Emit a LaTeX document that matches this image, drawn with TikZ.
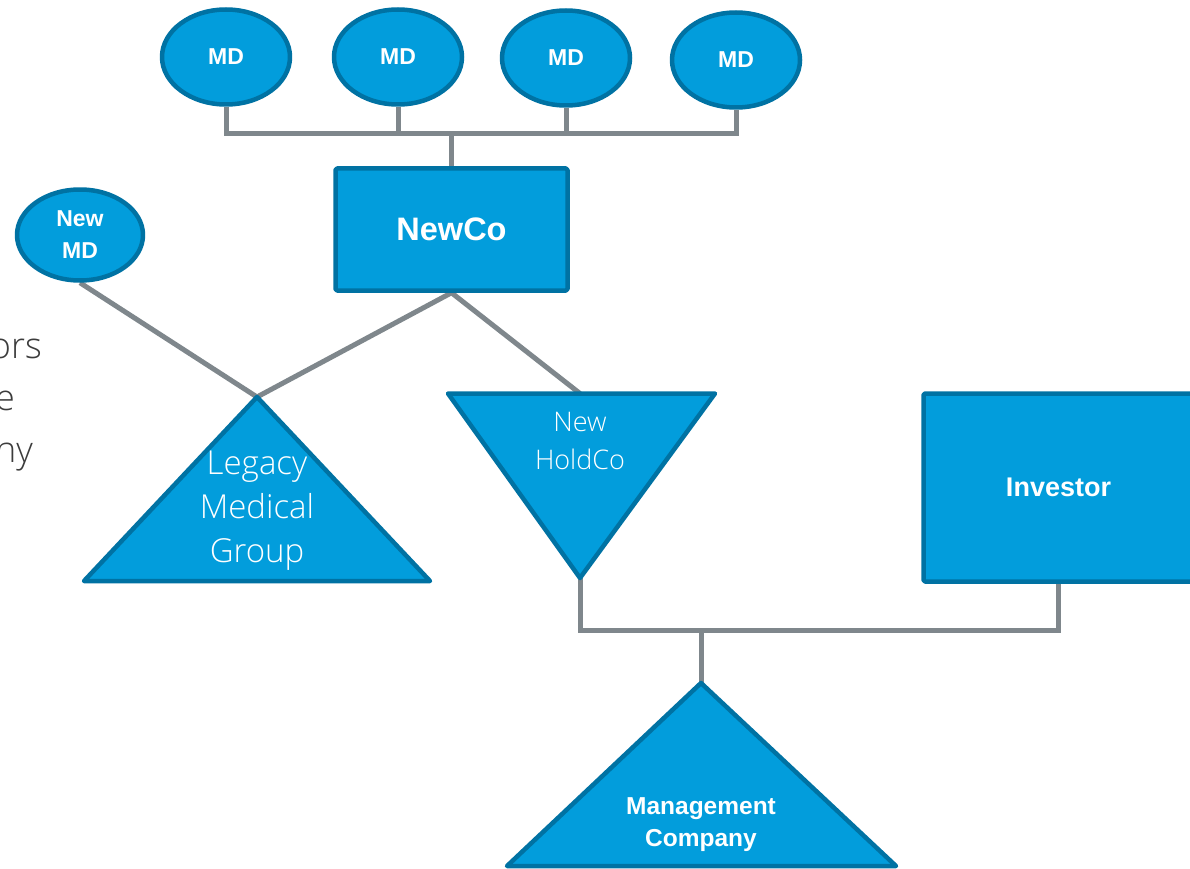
\documentclass[tikz,border=0pt]{standalone}
\usepackage{fontspec}
\setmainfont{Liberation Sans}
\newfontfamily\lightfont{Open Sans Light}
\usetikzlibrary{shapes.geometric}
\pgfdeclarelayer{links}
\pgfsetlayers{links,main}
\definecolor{boxfill}{RGB}{2,157,220}
\definecolor{boxline}{RGB}{0,114,163}
\definecolor{linkgray}{RGB}{127,135,140}
\definecolor{sidegray}{RGB}{60,60,60}
\tikzset{
  conn/.style={draw=linkgray, line width=5pt},
  shapebox/.style={draw=boxline, fill=boxfill, line width=4.5pt, line join=round},
  mdnode/.style={shapebox, ellipse, minimum width=128pt, minimum height=95pt, inner sep=0pt,
    text=white, font=\bfseries\fontsize{23}{32}\selectfont, align=center},
  rectnode/.style={shapebox, rectangle, rounded corners=1.5pt, inner sep=0pt, text=white},
  boldlabel/.style={text=white, align=center, inner sep=0pt},
  lightlabel/.style={text=white, align=center, inner sep=0pt},
  sidetext/.style={text=sidegray, inner sep=0pt, font=\lightfont\fontsize{36}{40}\selectfont}
}
\begin{document}
\begin{tikzpicture}[x=1pt, y=-1pt]
\useasboundingbox (0,0) rectangle (1190,869);
\clip (0,0) rectangle (1190,869);

% key points of the triangles and the two horizontal buses
\coordinate (legApex) at (257,397);
\coordinate (legL) at (84,581);
\coordinate (legR) at (430,581);
\coordinate (hcL) at (448,393.5);
\coordinate (hcR) at (715,393.5);
\coordinate (hcApex) at (580,578);
\coordinate (hcTop) at (580,393.5);
\coordinate (mgApex) at (701,683);
\coordinate (mgL) at (507,866);
\coordinate (mgR) at (896,866);
\coordinate (topBus) at (0,134);
\coordinate (lowBus) at (0,630);

% ovals and boxes
\node[mdnode] (md1) at (226,57) {MD};
\node[mdnode] (md2) at (398,57) {MD};
\node[mdnode] (md3) at (566,58) {MD};
\node[mdnode] (md4) at (736,60) {MD};
\node[mdnode, minimum width=126pt, minimum height=91pt] (newmd) at (80,235) {New\\MD};
\node[rectnode, minimum width=232pt, minimum height=122pt,
      font=\bfseries\fontsize{32.5}{36}\selectfont] (newco) at (451.5,229.5) {NewCo};
\node[rectnode, minimum width=270pt, minimum height=188pt,
      font=\bfseries\fontsize{27}{32}\selectfont] (investor) at (1058.5,487.5) {Investor};

% triangles
\path[shapebox] (legApex) -- (legR) -- (legL) -- cycle;
\path[shapebox] (hcL) -- (hcR) -- (hcApex) -- cycle;
\path[shapebox] (mgApex) -- (mgR) -- (mgL) -- cycle;

% connectors, on the layer below the shapes
\begin{pgfonlayer}{links}
\draw[conn] (md1.south) -- (md1.south |- topBus) -- (md4.south |- topBus) -- (md4.south);
\draw[conn] (md2.south) -- (md2.south |- topBus);
\draw[conn] (md3.south) -- (md3.south |- topBus);
\draw[conn] (newco.north) -- (newco.north |- topBus);
\draw[conn] (newmd.south) -- (legApex);
\draw[conn] (newco.south) -- (legApex);
\draw[conn] (newco.south) -- (hcTop);
\draw[conn] (hcApex) -- (hcApex |- lowBus) -- (investor.south |- lowBus) -- (investor.south);
\draw[conn] (mgApex |- lowBus) -- (mgApex);
\end{pgfonlayer}

% triangle labels
\node[lightlabel, font=\lightfont\fontsize{33}{44}\selectfont] (legtxt) at (257,511) {Legacy\\Medical\\Group};
\node[lightlabel, font=\lightfont\fontsize{27}{38}\selectfont] (hctxt) at (580,441) {New\\HoldCo};
\node[boldlabel, font=\bfseries\fontsize{24.5}{32}\selectfont] (mgtxt) at (701,824.5) {Management\\Company};

% text running in from the left edge
\node[sidetext, anchor=base east] (side1) at (42,358) {ors};
\node[sidetext, anchor=base east] (side2) at (15,410) {e};
\node[sidetext, anchor=base east] (side3) at (33,462) {ny};
\end{tikzpicture}
\end{document}
